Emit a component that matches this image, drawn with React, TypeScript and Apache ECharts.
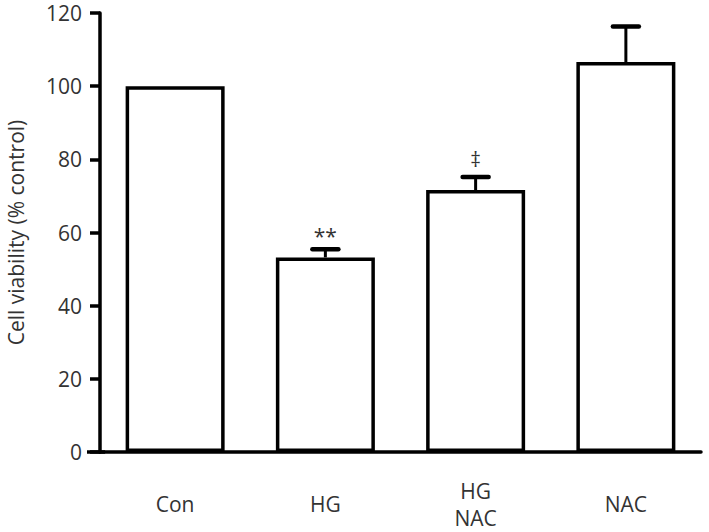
import React, { useEffect, useRef } from "react";
import * as echarts from "echarts";

const categories = ["Con", "HG", "HG\nNAC", "NAC"];
const means = [100, 53.2, 71.6, 106.6];
const sds = [0, 2.2, 3.6, 9.7];
const marks = ["", "**", "‡", ""];
const yTicks = { min: 0, max: 120, interval: 20 };

export default function App() {
  const ref = useRef<HTMLDivElement>(null);
  useEffect(() => {
    if (!ref.current) return;
    const chart = echarts.init(ref.current, null, { renderer: "svg" });
    const font = "Open Sans";
    const textColor = "#333";
    chart.setOption({
      animation: false,
      grid: { left: 100, right: 8, top: 13, bottom: 80, outerBoundsMode: "none", containLabel: false },
      xAxis: {
        type: "category",
        data: categories,
        axisLine: { lineStyle: { color: "#000", width: 3.5 } },
        axisTick: { alignWithLabel: true, length: 10, lineStyle: { color: "#000", width: 3 } },
        axisLabel: {
          color: textColor,
          fontFamily: font,
          fontSize: 21,
          lineHeight: 27,
          verticalAlign: "middle",
          margin: 52,
        },
      },
      yAxis: {
        type: "value",
        min: yTicks.min,
        max: yTicks.max,
        interval: yTicks.interval,
        name: "Cell viability (% control)",
        nameLocation: "middle",
        nameGap: 74,
        nameTextStyle: { color: textColor, fontFamily: font, fontSize: 21 },
        axisLine: { show: true, lineStyle: { color: "#000", width: 3.5 } },
        axisTick: { show: true, length: 10, lineStyle: { color: "#000", width: 3.5 } },
        splitLine: { show: false },
        axisLabel: { color: textColor, fontFamily: font, fontSize: 21, margin: 18 },
      },
      series: [
        {
          type: "bar",
          data: means,
          barWidth: 99,
          itemStyle: { color: "#fff", borderColor: "#000", borderWidth: 3.5 },
          z: 2,
        },
        {
          type: "custom",
          z: 3,
          data: means.map((m, i) => [i, m, sds[i]]),
          renderItem: (params: any, api: any) => {
            const i = api.value(0);
            const m = api.value(1);
            const sd = api.value(2);
            const base = api.coord([i, m]);
            const top = api.coord([i, m + sd]);
            const children: any[] = [];
            if (sd > 0) {
              children.push({
                type: "line",
                shape: { x1: base[0], y1: base[1], x2: top[0], y2: top[1] },
                style: { stroke: "#000", lineWidth: 3 },
              });
              children.push({
                type: "line",
                shape: { x1: top[0] - 13, y1: top[1], x2: top[0] + 13, y2: top[1] },
                style: { stroke: "#000", lineWidth: 4.5, lineCap: "round" },
              });
            }
            const mk = marks[params.dataIndex];
            if (mk) {
              const off = mk === "**" ? 13 : 18;
              children.push({
                type: "text",
                style: {
                  text: mk,
                  x: top[0],
                  y: top[1] - off,
                  align: "center",
                  verticalAlign: "middle",
                  fill: textColor,
                  fontFamily: font,
                  fontSize: 21,
                },
              });
            }
            return { type: "group", children };
          },
        },
      ],
    });
    const y0 = chart.convertToPixel({ yAxisIndex: 0 }, 0) as number;
    const x0 = chart.convertToPixel({ xAxisIndex: 0 }, 0) as number;
    chart.setOption({
      graphic: [
        {
          type: "line",
          shape: { x1: 87, y1: y0, x2: x0 - 70, y2: y0 },
          style: { stroke: "#000", lineWidth: 3.5 },
          z: 10,
        },
      ],
    });
    return () => chart.dispose();
  }, []);
  return <div ref={ref} style={{ width: 709, height: 532, position: "absolute", left: 0, top: 0 }} />;
}
